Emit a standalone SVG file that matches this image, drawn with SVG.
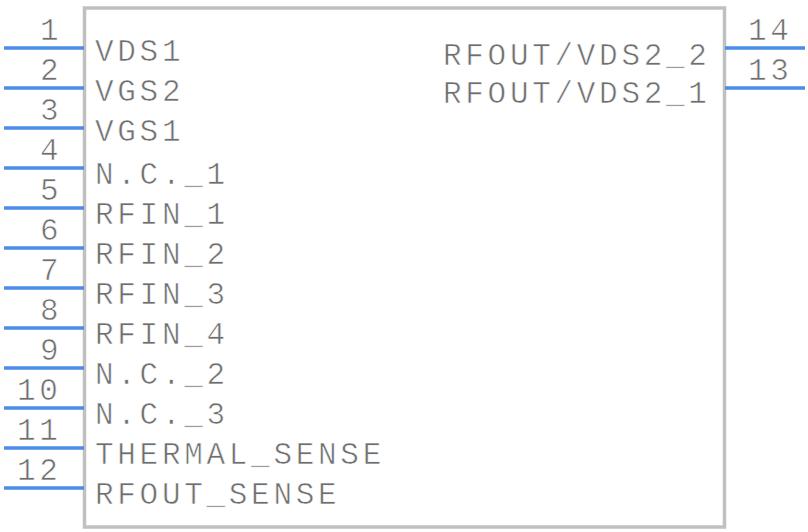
<svg xmlns="http://www.w3.org/2000/svg" width="808" height="532" viewBox="0 0 808 532">
<style>
.body{fill:#ffffff;stroke:#c0c0c0;stroke-width:3.5}
.pin{stroke:#4a8de6;stroke-width:3.5;fill:none}
text{font-family:"Liberation Mono","DejaVu Sans Mono",monospace;font-size:31px;letter-spacing:3.7px;fill:#6e6e6e;stroke:#ffffff;stroke-width:0.6px}
</style>
<rect width="808" height="532" fill="#ffffff"/>
<g id="body"><rect class="body" x="84.5" y="8" width="640" height="519"/></g>
<g id="connectors">
<line class="pin" x1="4" y1="48" x2="84" y2="48"/>
<line class="pin" x1="4" y1="88" x2="84" y2="88"/>
<line class="pin" x1="4" y1="128" x2="84" y2="128"/>
<line class="pin" x1="4" y1="168" x2="84" y2="168"/>
<line class="pin" x1="4" y1="208" x2="84" y2="208"/>
<line class="pin" x1="4" y1="248" x2="84" y2="248"/>
<line class="pin" x1="4" y1="288" x2="84" y2="288"/>
<line class="pin" x1="4" y1="328" x2="84" y2="328"/>
<line class="pin" x1="4" y1="368" x2="84" y2="368"/>
<line class="pin" x1="4" y1="408" x2="84" y2="408"/>
<line class="pin" x1="4" y1="448" x2="84" y2="448"/>
<line class="pin" x1="4" y1="488" x2="84" y2="488"/>
<line class="pin" x1="725" y1="48" x2="805" y2="48"/>
<line class="pin" x1="725" y1="88" x2="805" y2="88"/>
</g>
<g id="pin1"><text x="40" y="40">1</text><text x="95" y="61">VDS1</text></g>
<g id="pin2"><text x="40" y="80">2</text><text x="95" y="101">VGS2</text></g>
<g id="pin3"><text x="40" y="120">3</text><text x="95" y="141">VGS1</text></g>
<g id="pin4"><text x="40" y="160">4</text><text x="95" y="184">N.C._1</text></g>
<g id="pin5"><text x="40" y="200">5</text><text x="95" y="224">RFIN_1</text></g>
<g id="pin6"><text x="40" y="240">6</text><text x="95" y="264">RFIN_2</text></g>
<g id="pin7"><text x="40" y="280">7</text><text x="95" y="304">RFIN_3</text></g>
<g id="pin8"><text x="40" y="320">8</text><text x="95" y="344">RFIN_4</text></g>
<g id="pin9"><text x="40" y="360">9</text><text x="95" y="384">N.C._2</text></g>
<g id="pin10"><text x="17" y="400">10</text><text x="95" y="424">N.C._3</text></g>
<g id="pin11"><text x="17" y="440">11</text><text x="95" y="464">THERMAL_SENSE</text></g>
<g id="pin12"><text x="17" y="480">12</text><text x="95" y="504">RFOUT_SENSE</text></g>
<g id="pin14"><text x="748" y="40">14</text><text x="443" y="65">RFOUT/VDS2_2</text></g>
<g id="pin13"><text x="748" y="80">13</text><text x="443" y="103">RFOUT/VDS2_1</text></g>
</svg>
